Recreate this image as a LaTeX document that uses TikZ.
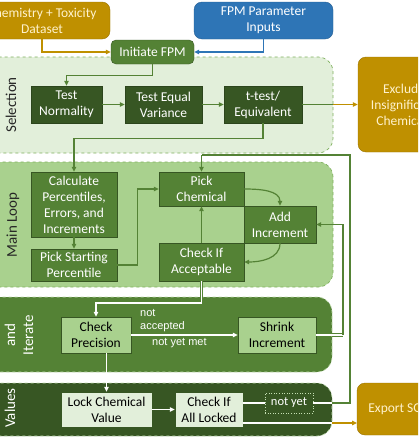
\documentclass[tikz,border=0pt]{standalone}
\usepackage{fontspec}
\setmainfont{Carlito}
\newfontfamily\arialf{Liberation Sans}
\usetikzlibrary{arrows.meta,calc}
\definecolor{gold}{HTML}{BF9000}
\definecolor{cream}{HTML}{FFF2CC}
\definecolor{fpmblue}{HTML}{2E75B6}
\definecolor{mdgreen}{HTML}{548235}
\definecolor{dkgreen}{HTML}{375623}
\definecolor{ltgreen}{HTML}{A9D18E}
\definecolor{vlgreen}{HTML}{E2EFDA}
\definecolor{edgegreen}{HTML}{7FB05E}
\definecolor{paleedge}{HTML}{C5E0B4}
\tikzset{
  txt/.style={font=\fontsize{13.5}{16}\selectfont, align=center, inner sep=0pt},
  dkbox/.style={txt, fill=dkgreen, draw=dkgreen!80!black, line width=0.4pt, text=white},
  mdbox/.style={txt, fill=mdgreen, draw=dkgreen, line width=0.4pt, text=white},
  ltbox/.style={txt, fill=ltgreen, draw=dkgreen, line width=0.5pt, text=black},
  vlbox/.style={txt, fill=vlgreen, draw=dkgreen, line width=0.5pt, text=black},
  goldbox/.style={txt, fill=gold, draw=gold!80!black, line width=0.4pt, rounded corners=8pt, text=cream},
  bluebox/.style={txt, fill=fpmblue, draw=fpmblue!80!black, line width=0.4pt, rounded corners=8pt, text=white},
  region/.style={dashed, rounded corners=15pt, line width=0.7pt},
  rlabel/.style={font=\fontsize{15}{18}\selectfont, rotate=90, align=center, inner sep=0pt},
  tip/.style={-{Triangle[length=5pt,width=4.5pt]}},
  gline/.style={draw=mdgreen, line width=1.2pt},
  wline/.style={draw=white, line width=1.2pt},
  underlay/.style={draw=mdgreen, line width=3.2pt},
  goldline/.style={draw=gold, line width=1.2pt},
  blueline/.style={draw=fpmblue, line width=1.2pt},
  small/.style={font=\arialf\fontsize{11}{13}\selectfont, text=white, inner sep=0pt, anchor=west}
}
\begin{document}
\begin{tikzpicture}[x=1pt,y=-1pt]
\useasboundingbox (0,0) rectangle (418,439);
\clip (0,0) rectangle (418,439);
\fill[white] (0,0) rectangle (418,439);

% regions
\draw[region, fill=vlgreen, draw=edgegreen] (-30,57) rectangle (333,153);
\draw[region, fill=ltgreen, draw=edgegreen] (-30,162) rectangle (333,287);
\draw[region, fill=mdgreen, draw=paleedge] (-30,297) rectangle (332,372);
\draw[region, fill=dkgreen, draw=paleedge] (-30,383) rectangle (332,436);

\node[rlabel, text=black!85] (lsel) at (11,105) {Selection};
\node[rlabel, text=black!85] (lmain) at (13,225) {Main Loop};
\node[rlabel, text=white] (liter) at (19,335) {and\\Iterate};
\node[rlabel, text=white] (lval) at (10,408) {Values};

% top boxes
\node[goldbox, minimum width=136, minimum height=37] (chem) at (42,20.5) {Chemistry + Toxicity\\Dataset};
\node[bluebox, minimum width=139, minimum height=37] (fpm) at (263.5,20.5) {FPM Parameter\\Inputs};
\node[txt, fill=mdgreen, draw=dkgreen, line width=0.4pt, rounded corners=5pt, text=white, minimum width=83, minimum height=24] (ini) at (152.5,52) {Initiate FPM};

% selection
\node[dkbox, minimum width=71, minimum height=37] (tn) at (66.5,104.5) {Test\\Normality};
\node[dkbox, minimum width=77, minimum height=37] (tev) at (163.5,104.5) {Test Equal\\Variance};
\node[dkbox, minimum width=78, minimum height=37] (tt) at (263,104.5) {t-test/\\Equivalent};
\node[goldbox, minimum width=92, minimum height=95] (exc) at (404,104.5) {Exclude\\Insignificant\\Chemicals};

% main loop
\node[mdbox, minimum width=86, minimum height=65] (calc) at (74,204.5) {Calculate\\Percentiles,\\Errors, and\\Increments};
\node[mdbox, minimum width=86, minimum height=32] (ps) at (74,265) {Pick Starting\\Percentile};
\node[mdbox, minimum width=85, minimum height=34] (pc) at (201.5,189) {Pick\\Chemical};
\node[mdbox, minimum width=72, minimum height=37] (ai) at (280,224.5) {Add\\Increment};
\node[mdbox, minimum width=85, minimum height=38] (ci) at (201.5,262) {Check If\\Acceptable};

% iterate
\node[ltbox, minimum width=70, minimum height=36] (cp) at (96,335) {Check\\Precision};
\node[ltbox, minimum width=78, minimum height=36] (si) at (277,335) {Shrink\\Increment};

% values
\node[vlbox, minimum width=91, minimum height=35] (lk) at (106.5,409.5) {Lock Chemical\\Value};
\node[vlbox, minimum width=68, minimum height=35] (ca) at (209,409.5) {Check If\\All Locked};
\node[txt, draw=paleedge, dotted, line width=0.6pt, text=white, font=\fontsize{12.5}{15}\selectfont, minimum width=48, minimum height=20] (ny) at (289,403) {not yet};
\node[goldbox, minimum width=82, minimum height=52] (exp) at (398,409) {Export SOs};

% coordinates
\coordinate (ttx) at (333,104.5);
\coordinate (sx) at (343,335);
\coordinate (nyx) at (332,403);
\coordinate (nyc) at (350,403);
\coordinate (topc) at (350,155);
\coordinate (topl) at (201.5,155);
\coordinate (cax) at (332,423);
\coordinate (cae) at (243,423);
\coordinate (eae) at (357,423);
\coordinate (cbend) at (201.5,303);

% top connectors
\draw[goldline, tip] (chem.south) |- (ini.west);
\draw[blueline, tip] (fpm.south) |- (ini.east);
\draw[gline, tip] (ini.south) -- ++(0,11) -| (tn.north);
\draw[gline, tip] (tn.east) -- (tev.west);
\draw[gline, tip] (tev.east) -- (tt.west);
\draw[gline] (tt.east) -- (ttx);
\draw[goldline, tip] (ttx) -- (exc.west);
\draw[gline, tip] (tt.south) -- ++(0,15) -| (calc.north);

% main loop connectors
\draw[gline, tip] (calc.south) -- (ps.north);
\draw[gline, tip] (ps.east) -- ++(20,0) |- (pc.west);
\draw[gline, tip] (pc.east) to[out=0, in=90] (ai.north);
\draw[gline, tip] (ai.south) to[out=-90, in=0] (ci.east);
\draw[gline, tip] (ci.north) -- (pc.south);

% check acceptable -> check precision
\draw[underlay] (ci.south) -- (cbend) -| ($(cp.north)+(0,-4)$);
\draw[wline, tip] (ci.south) -- (cbend) -| (cp.north);

% iterate connectors
\draw[wline, tip] (cp.east) -- (si.west);
\node[small] (lnot) at (140,313) {not};
\node[small] (lacc) at (140,327) {accepted};
\node[small] (lmet) at (152,343) {not yet met};
\draw[underlay] ($(si.east)+(16,0)$) -- (sx);
\draw[wline] (si.east) -- (sx);
\draw[gline, tip] (sx) |- (ai.east);
\draw[wline, tip] (cp.south -| lk.north) -- (lk.north);

% values connectors
\draw[wline, tip] (lk.east) -- (ca.west);
\draw[wline] (ca.east |- ny.west) -- (ny.west);
\draw[wline] (ny.east) -- (nyx);
\draw[gline] (nyx) -- (nyc) -- (topc) -- (topl);
\draw[gline, tip] (topl) -- (pc.north);
\draw[wline] (cae) -- (cax);
\draw[goldline, tip] (cax) -- (eae);
\end{tikzpicture}
\end{document}
